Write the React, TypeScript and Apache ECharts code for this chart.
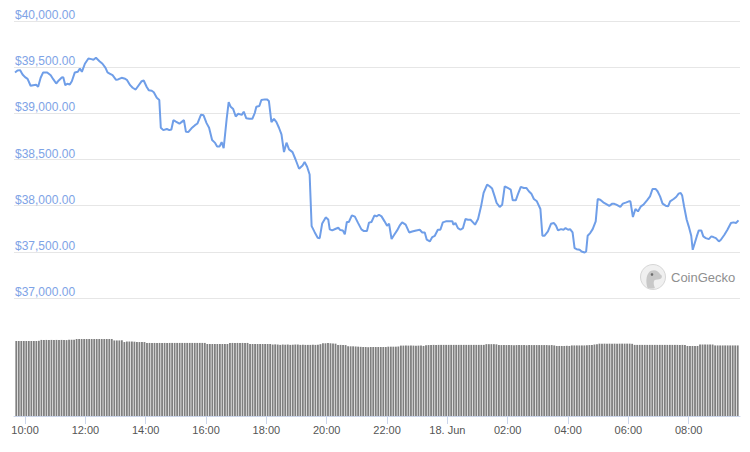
import React, { useEffect, useRef } from "react";
import * as echarts from "echarts";

// Time is expressed in minutes from 17 Jun 00:00
const priceMinutes = [
  580, 585, 590, 595, 600, 605, 611, 616, 622, 626,
  631, 636, 644, 651, 656, 662, 667, 673, 676, 680,
  684, 689, 693, 699, 705, 709, 713, 719, 726, 732,
  736, 741, 748, 754, 760, 764, 769, 774, 781, 785,
  792, 799, 803, 809, 814, 820, 832, 836, 842, 846,
  852, 856, 862, 867, 870, 875, 882, 887, 891, 895,
  900, 907, 911, 916, 920, 925, 931, 938, 943, 950,
  955, 961, 966, 972, 978, 982, 987, 991, 995, 1001,
  1005, 1009, 1014, 1019, 1024, 1031, 1035, 1040, 1046, 1052,
  1057, 1060, 1066, 1070, 1077, 1081, 1085, 1090, 1095, 1100,
  1105, 1110, 1115, 1120, 1125, 1132, 1138, 1145, 1152, 1156,
  1161, 1166, 1170, 1176, 1182, 1186, 1191, 1198, 1203, 1206,
  1211, 1218, 1223, 1227, 1232, 1236, 1240, 1244, 1250, 1256,
  1262, 1269, 1274, 1280, 1284, 1289, 1295, 1299, 1304, 1309,
  1315, 1320, 1324, 1329, 1333, 1340, 1345, 1350, 1357, 1364,
  1370, 1378, 1385, 1390, 1395, 1399, 1405, 1410, 1415, 1421,
  1426, 1431, 1437, 1444, 1450, 1452, 1456, 1461, 1466, 1471,
  1476, 1481, 1486, 1491, 1495, 1501, 1507, 1512, 1519, 1524,
  1529, 1534, 1538, 1544, 1549, 1554, 1560, 1566, 1570, 1576,
  1580, 1586, 1592, 1597, 1602, 1607, 1612, 1618, 1625, 1629,
  1633, 1640, 1646, 1652, 1656, 1660, 1666, 1671, 1675, 1680,
  1684, 1689, 1693, 1697, 1703, 1707, 1713, 1716, 1719, 1724,
  1729, 1735, 1739, 1744, 1750, 1757, 1762, 1768, 1772, 1776,
  1784, 1789, 1796, 1801, 1804, 1809, 1814, 1819, 1825, 1830,
  1837, 1843, 1848, 1854, 1858, 1863, 1868, 1874, 1879, 1883,
  1890, 1895, 1900, 1904, 1907, 1911, 1916, 1920, 1925, 1928,
  1931, 1936, 1940, 1945, 1949, 1954, 1960, 1965, 1969, 1974,
  1980, 1984, 1991, 1997, 2004, 2009, 2014, 2019,
];

const priceValues = [
  39443, 39464, 39468, 39421, 39392, 39374, 39299, 39305, 39309, 39288,
  39385, 39443, 39443, 39413, 39370, 39323, 39356, 39388, 39392, 39305,
  39320, 39313, 39348, 39443, 39450, 39486, 39450, 39537, 39594, 39587,
  39580, 39602, 39565, 39537, 39493, 39443, 39428, 39413, 39363, 39367,
  39385, 39374, 39359, 39305, 39277, 39258, 39348, 39356, 39285, 39251,
  39245, 39229, 39168, 39145, 38844, 38818, 38830, 38818, 38825, 38926,
  38910, 38888, 38905, 38926, 38800, 38798, 38838, 38872, 38890, 38986,
  38979, 38894, 38844, 38710, 38680, 38642, 38642, 38688, 38622, 38940,
  39122, 39070, 39046, 38966, 38995, 38983, 39018, 38946, 38941, 38941,
  39006, 39071, 39079, 39144, 39151, 39151, 39133, 38905, 38941, 38905,
  38844, 38772, 38580, 38682, 38610, 38580, 38500, 38400, 38436, 38472,
  38421, 38338, 37778, 37713, 37653, 37648, 37808, 37873, 37851, 37743,
  37732, 37750, 37761, 37736, 37732, 37689, 37823, 37823, 37895, 37881,
  37816, 37743, 37725, 37725, 37816, 37823, 37895, 37884, 37902, 37884,
  37830, 37783, 37804, 37638, 37674, 37732, 37783, 37819, 37794, 37710,
  37721, 37732, 37739, 37710, 37710, 37631, 37613, 37660, 37674, 37739,
  37739, 37819, 37830, 37830, 37830, 37794, 37812, 37757, 37739, 37757,
  37855, 37848, 37848, 37819, 37794, 37855, 37993, 38138, 38228, 38210,
  38185, 38101, 38029, 37986, 38011, 38210, 38192, 38174, 38058, 38058,
  38119, 38203, 38192, 38192, 38156, 38130, 38072, 38047, 37964, 37674,
  37674, 37721, 37804, 37812, 37783, 37732, 37746, 37739, 37757, 37739,
  37746, 37710, 37540, 37529, 37522, 37504, 37493, 37504, 37674, 37703,
  37746, 37830, 38072, 38065, 38036, 38014, 37998, 38022, 38020, 38011,
  37986, 38022, 38036, 38047, 38047, 37877, 37964, 37938, 37993, 38011,
  38058, 38101, 38181, 38181, 38156, 38101, 38022, 38000, 37993, 38047,
  38072, 38094, 38130, 38138, 38109, 37986, 37848, 37776, 37674, 37522,
  37576, 37667, 37732, 37732, 37667, 37649, 37638, 37667, 37660, 37649,
  37613, 37631, 37685, 37739, 37812, 37819, 37812, 37841,
];

// 24h volume (billions USD), one bar per 5-minute slot starting 17 Jun 09:40
const volumeStartMinute = 580;
const volumeSlotMinutes = 5;
const volumeValues = [
  42.2, 42.2, 42.2, 42.2,
  42.2, 42.2, 42.2, 42.2, 42.2, 42.3, 42.8, 42.8, 42.8, 42.8, 42.8, 42.8,
  42.8, 42.8, 42.8, 42.8, 42.7, 42.9, 42.9, 42.9, 43.3, 43.3, 43.3, 43.3,
  43.3, 43.3, 43.3, 43.3, 43.3, 43.3, 43.3, 43.3, 43.3, 43.3, 43.3, 42.5,
  42.5, 42.5, 42.6, 41.6, 41.9, 41.9, 41.9, 41.8, 41.6, 41.6, 41.6, 41.6,
  41.1, 41.1, 41.1, 41.1, 41.1, 41.1, 41.1, 41.1, 41.1, 41.1, 41.1, 41.1,
  41.1, 41.1, 41.1, 41.1, 41.1, 41.1, 41.1, 41.1, 41.1, 41.1, 41.1, 41.1,
  40.5, 40.5, 40.5, 40.5, 40.5, 40.5, 40.5, 40.5, 40.5, 41.1, 41.1, 41.1,
  41.1, 41.1, 41.1, 41.1, 41.1, 40.5, 40.5, 40.5, 40.5, 40.5, 40.5, 40.5,
  40.5, 40.5, 40.2, 40.3, 40.2, 40.0, 40.2, 40.1, 40.2, 40.0, 40.1, 40.2,
  40.2, 40.0, 40.1, 40.0, 40.0, 40.0, 40.1, 40.0, 40.1, 40.4, 40.9, 40.9,
  41.0, 40.9, 40.8, 40.7, 40.0, 40.0, 40.0, 39.9, 39.2, 39.2, 39.2, 39.1,
  39.0, 38.9, 38.8, 38.8, 38.7, 38.8, 38.8, 38.8, 38.8, 38.8, 38.8, 38.8,
  39.0, 39.0, 39.0, 39.0, 39.1, 39.6, 39.6, 39.6, 39.6, 39.6, 39.6, 39.5,
  39.6, 39.6, 39.4, 39.8, 39.9, 40.0, 40.0, 40.0, 40.0, 40.0, 40.0, 40.0,
  40.0, 40.0, 40.0, 40.0, 40.0, 40.0, 40.0, 40.0, 40.0, 40.0, 40.0, 40.0,
  40.0, 40.0, 40.0, 40.4, 40.4, 40.4, 40.4, 40.3, 39.9, 39.9, 39.9, 39.9,
  39.9, 39.9, 39.8, 39.9, 39.9, 39.9, 39.9, 39.8, 39.9, 39.9, 39.9, 39.9,
  39.9, 39.9, 39.9, 39.9, 39.8, 39.9, 39.7, 39.4, 39.4, 39.4, 39.4, 39.5,
  39.4, 39.7, 39.7, 39.7, 39.7, 39.7, 39.7, 39.8, 39.9, 39.9, 40.2, 40.3,
  40.7, 40.7, 40.7, 40.7, 40.7, 40.7, 40.7, 40.7, 40.7, 40.7, 40.7, 40.7,
  40.7, 40.6, 40.0, 40.0, 40.0, 40.0, 40.0, 40.0, 40.0, 40.0, 40.0, 40.0,
  40.0, 40.0, 40.0, 40.0, 40.0, 40.0, 40.0, 40.0, 40.0, 40.0, 40.0, 39.4,
  39.4, 39.4, 39.4, 39.4, 40.2, 40.2, 40.2, 40.2, 40.2, 40.2, 39.7, 39.7,
  39.7, 39.7, 39.7, 39.7, 39.7, 39.7, 39.7, 39.7,
];

const xTickMinutes = [600, 720, 840, 960, 1080, 1200, 1320, 1440, 1560, 1680, 1800, 1920];
const priceTicks = { min: 37000, max: 40000, interval: 500 };

const FONT = "'Liberation Sans', Arial, Helvetica, sans-serif";

const geckoPath =
  "M -6 11 C -8 4 -7 -4 -2 -6.5 C 2 -8.5 6 -6 7.5 -3 C 9.5 -2.5 10 0 8.5 1.5 C 6 3 3 2 1.5 3.5 C 0 6 1 9 2 11.5 C -1 12.5 -4 12.5 -6 11 Z";
let geckoRegistered = false;

function formatTime(v: number): string {
  if (v % 1440 === 0) return "18. Jun";
  const h = Math.floor(v / 60) % 24;
  return (h < 10 ? "0" : "") + h + ":00";
}

export default function App() {
  const ref = useRef<HTMLDivElement>(null);

  useEffect(() => {
    if (!ref.current) return;
    if (!geckoRegistered) {
      echarts.graphic.registerShape("gecko", echarts.graphic.extendPath(geckoPath, {}));
      geckoRegistered = true;
    }
    const chart = echarts.init(ref.current, null, { renderer: "svg" });

    const linePoints = priceMinutes.map((m, i) => [m, priceValues[i]]);
    const barPoints = volumeValues.map((v, i) => [
      volumeStartMinute + volumeSlotMinutes * i + volumeSlotMinutes / 2,
      v,
    ]);

    chart.setOption({
      animation: false,
      backgroundColor: "#ffffff",
      textStyle: { fontFamily: FONT },
      grid: [
        { left: 14, right: 10, top: 21, height: 277 },
        { left: 14, right: 10, top: 336, bottom: 36 },
      ],
      xAxis: [
        { type: "value", gridIndex: 0, min: 578, max: 2022, show: false },
        {
          type: "value",
          gridIndex: 1,
          min: 578,
          max: 2022,
          axisLine: { show: true, lineStyle: { color: "#ccd6eb", width: 1 } },
          axisTick: {
            show: true,
            length: 8,
            customValues: xTickMinutes,
            lineStyle: { color: "#ccd6eb", width: 1 },
          },
          axisLabel: {
            customValues: xTickMinutes,
            formatter: (v: number) => formatTime(v),
            color: "#555555",
            fontSize: 11,
            margin: 8,
            fontFamily: FONT,
          },
          splitLine: { show: false },
        },
      ],
      yAxis: [
        {
          type: "value",
          gridIndex: 0,
          min: priceTicks.min,
          max: priceTicks.max,
          interval: priceTicks.interval,
          axisLine: { show: false },
          axisTick: { show: false },
          axisLabel: {
            inside: true,
            margin: 1,
            verticalAlign: "bottom",
            color: "#7ea3e6",
            fontSize: 12,
            fontFamily: FONT,
            showMinLabel: true,
            showMaxLabel: true,
            formatter: (v: number) =>
              "$" + v.toLocaleString("en-US", { minimumFractionDigits: 2, maximumFractionDigits: 2 }),
          },
          splitLine: { show: true, lineStyle: { color: "#e6e6e6", width: 1 } },
        },
        { type: "value", gridIndex: 1, min: 0, max: 45, show: false },
      ],
      series: [
        {
          type: "bar",
          xAxisIndex: 1,
          yAxisIndex: 1,
          data: barPoints,
          barWidth: "72%",
          itemStyle: { color: "#7f7f7f" },
          silent: true,
        },
        {
          type: "line",
          xAxisIndex: 0,
          yAxisIndex: 0,
          data: linePoints,
          showSymbol: false,
          symbol: "none",
          lineStyle: { color: "#6f9ee8", width: 2 },
          silent: true,
        },
      ],
      graphic: [
        {
          type: "circle",
          shape: { cx: 653, cy: 277, r: 12.5 },
          style: { fill: "#f0f0f0", stroke: "#d6d6d6", lineWidth: 1 },
          silent: true,
        },
        {
          type: "gecko",
          x: 653,
          y: 277,
          scaleX: 0.95,
          scaleY: 0.95,
          style: { fill: "#c8c8c8" },
          silent: true,
        },
        {
          type: "circle",
          shape: { cx: 652, cy: 274.5, r: 1.3 },
          style: { fill: "#6b6b6b" },
          silent: true,
        },
        {
          type: "text",
          x: 671,
          y: 277,
          style: {
            text: "CoinGecko",
            fill: "#8f8f8f",
            fontSize: 13,
            fontFamily: FONT,
            verticalAlign: "middle",
            align: "left",
          },
          silent: true,
        },
      ],
    });

    return () => chart.dispose();
  }, []);

  return (
    <div
      ref={ref}
      style={{ position: "fixed", left: 0, top: 0, width: 750, height: 452, background: "#fff" }}
    />
  );
}
